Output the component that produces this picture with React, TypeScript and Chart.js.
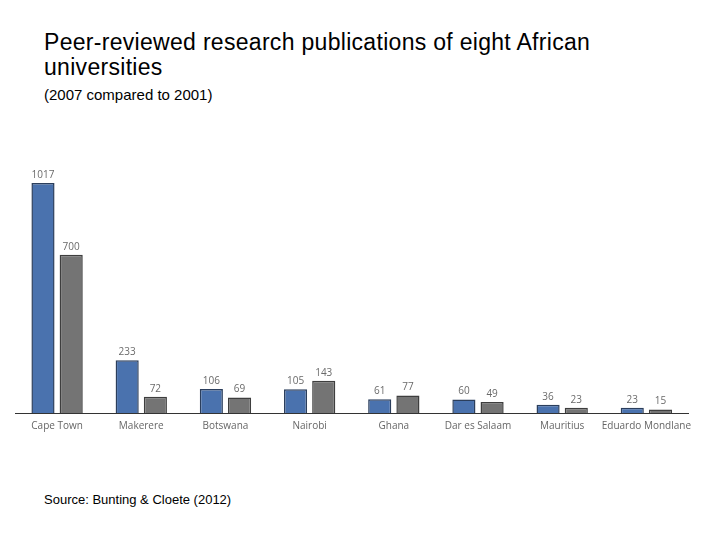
import React, { useEffect, useRef } from "react";
import { Chart, registerables } from "chart.js";

Chart.register(...registerables);

const universities = [
  "Cape Town",
  "Makerere",
  "Botswana",
  "Nairobi",
  "Ghana",
  "Dar es Salaam",
  "Mauritius",
  "Eduardo Mondlane",
];
const pubs2007 = [1017, 233, 106, 105, 61, 60, 36, 23];
const pubs2001 = [700, 72, 69, 143, 77, 49, 23, 15];

const valueLabels = {
  id: "valueLabels",
  afterDatasetsDraw(chart: any) {
    const ctx = chart.ctx;
    ctx.save();
    ctx.font = "10px 'Open Sans', 'Liberation Sans', sans-serif";
    ctx.fillStyle = "#6a6a6a";
    ctx.textAlign = "center";
    ctx.textBaseline = "bottom";
    chart.data.datasets.forEach((ds: any, i: number) => {
      const meta = chart.getDatasetMeta(i);
      meta.data.forEach((bar: any, j: number) => {
        ctx.fillText(String(ds.data[j]), bar.x, bar.y - 3);
      });
    });
    ctx.restore();
  },
};

export default function App() {
  const ref = useRef<HTMLCanvasElement>(null);
  useEffect(() => {
    document.body.style.margin = "0";
    const chart = new Chart(ref.current!, {
      type: "bar",
      data: {
        labels: universities,
        datasets: [
          {
            label: "2007",
            data: pubs2007,
            backgroundColor: "#4a72ae",
            borderColor: "#2b3e5c",
            borderWidth: 1.5,
            categoryPercentage: 0.67,
            barPercentage: 0.82,
          },
          {
            label: "2001",
            data: pubs2001,
            backgroundColor: "#747474",
            borderColor: "#3e3e3e",
            borderWidth: 1.5,
            categoryPercentage: 0.67,
            barPercentage: 0.82,
          },
        ],
      },
      options: {
        animation: false,
        responsive: false,
        maintainAspectRatio: false,
        layout: { padding: { left: 0, right: 0, top: 0, bottom: 0 } },
        plugins: {
          legend: { display: false },
          tooltip: { enabled: false },
          title: { display: false },
        },
        scales: {
          x: {
            grid: { display: false, drawTicks: false },
            border: { display: true, color: "#333", width: 1 },
            ticks: {
              color: "#666",
              font: { family: "'Open Sans', 'Liberation Sans', sans-serif", size: 10 },
              padding: 7,
              maxRotation: 0,
              autoSkip: false,
            },
          },
          y: {
            display: false,
            min: 0,
            max: 1088,
          },
        },
      },
      plugins: [valueLabels],
    });
    return () => chart.destroy();
  }, []);

  return (
    <div
      style={{
        position: "absolute",
        left: 0,
        top: 0,
        width: 720,
        height: 540,
        background: "#fff",
        fontFamily: "'Liberation Sans', Arial, sans-serif",
        color: "#000",
      }}
    >
      <div
        style={{
          position: "absolute",
          left: 44,
          top: 30,
          fontSize: 23,
          lineHeight: "25px",
          letterSpacing: "0.3px",
          whiteSpace: "nowrap",
        }}
      >
        Peer-reviewed research publications of eight African
        <br />
        universities
      </div>
      <div style={{ position: "absolute", left: 44, top: 86, fontSize: 15 }}>
        (2007 compared to 2001)
      </div>
      <canvas
        ref={ref}
        width={683}
        height={272}
        style={{ position: "absolute", left: 15, top: 167, width: 683, height: 272 }}
      />
      <div style={{ position: "absolute", left: 44, top: 492, fontSize: 13 }}>
        Source: Bunting &amp; Cloete (2012)
      </div>
    </div>
  );
}
